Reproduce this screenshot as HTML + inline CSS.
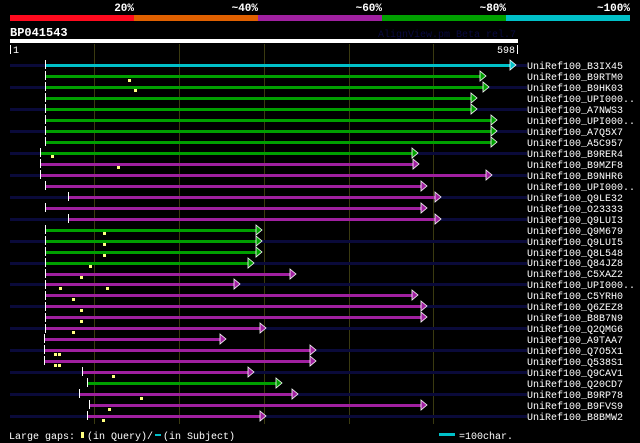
<!DOCTYPE html>
<html><head><meta charset="utf-8"><style>
html,body{margin:0;padding:0;background:#000;width:640px;height:443px;overflow:hidden}
svg{display:block}
text{font-family:"Liberation Mono","DejaVu Sans Mono",monospace;fill:#fff}
</style></head><body>
<svg width="640" height="443" viewBox="0 0 640 443">
<rect x="10" y="15" width="124" height="6" fill="#ff0a1e"/>
<rect x="134" y="15" width="124" height="6" fill="#e06000"/>
<rect x="258" y="15" width="124" height="6" fill="#a020a0"/>
<rect x="382" y="15" width="124" height="6" fill="#00a000"/>
<rect x="506" y="15" width="124" height="6" fill="#00c0c8"/>
<g font-size="11" font-weight="bold" text-anchor="end">
<text x="134" y="11">20%</text><text x="258" y="11">~40%</text><text x="382" y="11">~60%</text><text x="506" y="11">~80%</text><text x="630" y="11">~100%</text>
</g>
<text x="10" y="36" font-size="12" font-weight="bold">BP041543</text>
<text x="516" y="37" font-size="10" text-anchor="end" style="fill:#0a0a40">AlignView.pm Beta rel.7</text>
<rect x="10" y="39" width="508" height="4" fill="#fff"/>
<rect x="10" y="45" width="1" height="9" fill="#fff"/>
<text x="13" y="53" font-size="10">1</text>
<text x="515" y="53" font-size="10" text-anchor="end">598</text>
<rect x="517" y="45" width="1" height="9" fill="#fff"/>
<g fill="#3a3a10">
<rect x="94" y="44" width="1" height="380"/><rect x="179" y="44" width="1" height="380"/><rect x="264" y="44" width="1" height="380"/><rect x="349" y="44" width="1" height="380"/><rect x="433" y="44" width="1" height="380"/>
</g>
<g fill="#0a0a3a">
<rect x="10" y="64" width="517" height="3"/><rect x="10" y="86" width="517" height="3"/><rect x="10" y="108" width="517" height="3"/><rect x="10" y="130" width="517" height="3"/><rect x="10" y="152" width="517" height="3"/><rect x="10" y="174" width="517" height="3"/><rect x="10" y="196" width="517" height="3"/><rect x="10" y="218" width="517" height="3"/><rect x="10" y="240" width="517" height="3"/><rect x="10" y="262" width="517" height="3"/><rect x="10" y="283" width="517" height="3"/><rect x="10" y="305" width="517" height="3"/><rect x="10" y="327" width="517" height="3"/><rect x="10" y="349" width="517" height="3"/><rect x="10" y="371" width="517" height="3"/><rect x="10" y="393" width="517" height="3"/><rect x="10" y="415" width="517" height="3"/>
</g>
<g stroke="#fff" stroke-width="0.8">
<g fill="#00c0c8"><rect x="45" y="64" width="466" height="3" stroke="none"/><polygon points="510,60 516,65 510,70"/></g>
<g fill="#00a000">
<rect x="45" y="75" width="436" height="3" stroke="none"/><polygon points="480,71 486,76 480,81"/>
<rect x="45" y="86" width="439" height="3" stroke="none"/><polygon points="483,82 489,87 483,92"/>
<rect x="45" y="97" width="427" height="3" stroke="none"/><polygon points="471,93 477,98 471,103"/>
<rect x="45" y="108" width="427" height="3" stroke="none"/><polygon points="471,104 477,109 471,114"/>
<rect x="45" y="119" width="447" height="3" stroke="none"/><polygon points="491,115 497,120 491,125"/>
<rect x="45" y="130" width="447" height="3" stroke="none"/><polygon points="491,126 497,131 491,136"/>
<rect x="45" y="141" width="447" height="3" stroke="none"/><polygon points="491,137 497,142 491,147"/>
<rect x="40" y="152" width="373" height="3" stroke="none"/><polygon points="412,148 418,153 412,158"/>
<rect x="45" y="229" width="212" height="3" stroke="none"/><polygon points="256,225 262,230 256,235"/>
<rect x="45" y="240" width="212" height="3" stroke="none"/><polygon points="256,236 262,241 256,246"/>
<rect x="45" y="251" width="212" height="3" stroke="none"/><polygon points="256,247 262,252 256,257"/>
<rect x="45" y="262" width="204" height="3" stroke="none"/><polygon points="248,258 254,263 248,268"/>
<rect x="87" y="382" width="190" height="3" stroke="none"/><polygon points="276,378 282,383 276,388"/>
</g>
<g fill="#a020a0">
<rect x="40" y="163" width="374" height="3" stroke="none"/><polygon points="413,159 419,164 413,169"/>
<rect x="40" y="174" width="447" height="3" stroke="none"/><polygon points="486,170 492,175 486,180"/>
<rect x="45" y="185" width="377" height="3" stroke="none"/><polygon points="421,181 427,186 421,191"/>
<rect x="68" y="196" width="368" height="3" stroke="none"/><polygon points="435,192 441,197 435,202"/>
<rect x="45" y="207" width="377" height="3" stroke="none"/><polygon points="421,203 427,208 421,213"/>
<rect x="68" y="218" width="368" height="3" stroke="none"/><polygon points="435,214 441,219 435,224"/>
<rect x="45" y="273" width="246" height="3" stroke="none"/><polygon points="290,269 296,274 290,279"/>
<rect x="45" y="283" width="190" height="3" stroke="none"/><polygon points="234,279 240,284 234,289"/>
<rect x="45" y="294" width="368" height="3" stroke="none"/><polygon points="412,290 418,295 412,300"/>
<rect x="45" y="305" width="377" height="3" stroke="none"/><polygon points="421,301 427,306 421,311"/>
<rect x="45" y="316" width="377" height="3" stroke="none"/><polygon points="421,312 427,317 421,322"/>
<rect x="45" y="327" width="216" height="3" stroke="none"/><polygon points="260,323 266,328 260,333"/>
<rect x="44" y="338" width="177" height="3" stroke="none"/><polygon points="220,334 226,339 220,344"/>
<rect x="45" y="349" width="266" height="3" stroke="none"/><polygon points="310,345 316,350 310,355"/>
<rect x="45" y="360" width="266" height="3" stroke="none"/><polygon points="310,356 316,361 310,366"/>
<rect x="82" y="371" width="167" height="3" stroke="none"/><polygon points="248,367 254,372 248,377"/>
<rect x="79" y="393" width="214" height="3" stroke="none"/><polygon points="292,389 298,394 292,399"/>
<rect x="89" y="404" width="333" height="3" stroke="none"/><polygon points="421,400 427,405 421,410"/>
<rect x="87" y="415" width="174" height="3" stroke="none"/><polygon points="260,411 266,416 260,421"/>
</g>
</g>
<g stroke="#fff" stroke-width="1" stroke-dasharray="9 2">
<line x1="45.5" y1="60" x2="45.5" y2="147"/><line x1="40.5" y1="148" x2="40.5" y2="180"/>
<line x1="45.5" y1="181" x2="45.5" y2="190"/><line x1="68.5" y1="192" x2="68.5" y2="201"/><line x1="45.5" y1="203" x2="45.5" y2="212"/><line x1="68.5" y1="214" x2="68.5" y2="223"/>
<line x1="45.5" y1="225" x2="45.5" y2="333"/><line x1="44.5" y1="334" x2="44.5" y2="366"/>
<line x1="82.5" y1="367" x2="82.5" y2="376"/><line x1="87.5" y1="378" x2="87.5" y2="387"/><line x1="79.5" y1="389" x2="79.5" y2="398"/><line x1="89.5" y1="400" x2="89.5" y2="409"/><line x1="87.5" y1="411" x2="87.5" y2="420"/>
</g>
<g fill="#ffff80">
<rect x="128" y="79" width="3" height="3"/><rect x="134" y="89" width="3" height="3"/><rect x="51" y="155" width="3" height="3"/><rect x="117" y="166" width="3" height="3"/>
<rect x="103" y="232" width="3" height="3"/><rect x="103" y="243" width="3" height="3"/><rect x="103" y="254" width="3" height="3"/><rect x="89" y="265" width="3" height="3"/>
<rect x="80" y="276" width="3" height="3"/><rect x="59" y="287" width="3" height="3"/><rect x="106" y="287" width="3" height="3"/><rect x="72" y="298" width="3" height="3"/><rect x="80" y="309" width="3" height="3"/><rect x="80" y="320" width="3" height="3"/><rect x="72" y="331" width="3" height="3"/>
<rect x="54" y="353" width="3" height="3"/><rect x="58" y="353" width="3" height="3"/><rect x="54" y="364" width="3" height="3"/><rect x="58" y="364" width="3" height="3"/><rect x="112" y="375" width="3" height="3"/><rect x="140" y="397" width="3" height="3"/><rect x="108" y="408" width="3" height="3"/><rect x="102" y="419" width="3" height="3"/>
</g>
<g font-size="10">
<text x="527" y="69">UniRef100_B3IX45</text>
<text x="527" y="80">UniRef100_B9RTM0</text>
<text x="527" y="91">UniRef100_B9HK03</text>
<text x="527" y="102">UniRef100_UPI000..</text>
<text x="527" y="113">UniRef100_A7NWS3</text>
<text x="527" y="124">UniRef100_UPI000..</text>
<text x="527" y="135">UniRef100_A7Q5X7</text>
<text x="527" y="146">UniRef100_A5C957</text>
<text x="527" y="157">UniRef100_B9RER4</text>
<text x="527" y="168">UniRef100_B9MZF8</text>
<text x="527" y="179">UniRef100_B9NHR6</text>
<text x="527" y="190">UniRef100_UPI000..</text>
<text x="527" y="201">UniRef100_Q9LE32</text>
<text x="527" y="212">UniRef100_O23333</text>
<text x="527" y="223">UniRef100_Q9LUI3</text>
<text x="527" y="234">UniRef100_Q9M679</text>
<text x="527" y="245">UniRef100_Q9LUI5</text>
<text x="527" y="256">UniRef100_Q8L548</text>
<text x="527" y="266">UniRef100_Q84JZ8</text>
<text x="527" y="277">UniRef100_C5XAZ2</text>
<text x="527" y="288">UniRef100_UPI000..</text>
<text x="527" y="299">UniRef100_C5YRH0</text>
<text x="527" y="310">UniRef100_Q6ZEZ8</text>
<text x="527" y="321">UniRef100_B8B7N9</text>
<text x="527" y="332">UniRef100_Q2QMG6</text>
<text x="527" y="343">UniRef100_A9TAA7</text>
<text x="527" y="354">UniRef100_Q7O5X1</text>
<text x="527" y="365">UniRef100_Q538S1</text>
<text x="527" y="376">UniRef100_Q9CAV1</text>
<text x="527" y="387">UniRef100_Q20CD7</text>
<text x="527" y="398">UniRef100_B9RP78</text>
<text x="527" y="409">UniRef100_B9FVS9</text>
<text x="527" y="420">UniRef100_B8BMW2</text>
</g>
<text x="9" y="439" font-size="10">Large gaps:</text>
<rect x="81" y="432" width="3" height="6" fill="#ffff80"/>
<text x="87" y="439" font-size="10">(in Query)/</text>
<rect x="155" y="434" width="6" height="2" fill="#00c0c8"/>
<text x="163" y="439" font-size="10">(in Subject)</text>
<rect x="439" y="433" width="16" height="3" fill="#00c0c8"/>
<text x="459" y="439" font-size="10">=100char.</text>
</svg>
</body></html>
